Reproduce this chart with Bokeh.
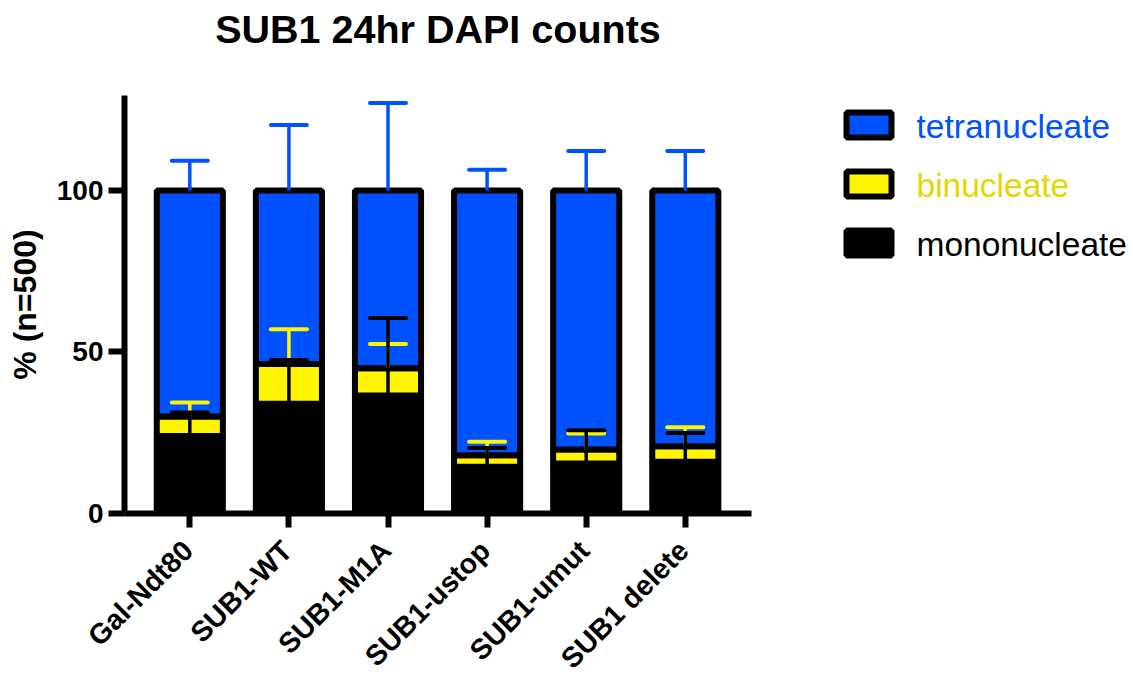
import math
from bokeh.plotting import figure
from bokeh.layouts import row, column
from bokeh.models import (Range1d, FixedTicker, Whisker, TeeHead, ColumnDataSource)
from bokeh.core.properties import value
from bokeh.embed import file_html
from bokeh.resources import INLINE

# ---- data ----
title_text = "SUB1 24hr DAPI counts"
y_label = "% (n=500)"
strains = ["Gal-Ndt80", "SUB1-WT", "SUB1-M1A", "SUB1-ustop", "SUB1-umut", "SUB1 delete"]
mono = [24.0, 34.0, 36.5, 14.5, 15.5, 16.0]
bi = [6.0, 12.3, 8.5, 3.5, 4.3, 4.8]
tetra = [70.0, 53.7, 55.0, 82.0, 80.2, 79.2]
mono_sd = [7.3, 13.5, 24.0, 5.8, 10.3, 8.9]
bi_sd = [4.4, 10.7, 7.5, 4.2, 5.0, 5.9]
tetra_sd = [9.2, 20.3, 27.1, 6.4, 12.2, 12.2]
y_ticks = [0, 50, 100]
series_names = ["tetranucleate", "binucleate", "mononucleate"]

BLUE = "#0052FF"
YELLOW = "#FFF500"
YELLOW_TXT = "#E2D800"
FONT = "Liberation Sans"

xs = list(range(len(strains)))
bi_top = [m + b for m, b in zip(mono, bi)]
tet_top = [bt + t for bt, t in zip(bi_top, tetra)]

src = ColumnDataSource(dict(
    x=xs, mono=mono, bitop=bi_top, tettop=tet_top,
    mono_hi=[m + s for m, s in zip(mono, mono_sd)],
    bi_hi=[b + s for b, s in zip(bi_top, bi_sd)],
    tet_hi=[t + s for t, s in zip(tet_top, tetra_sd)],
))

# ---- layout geometry (pixels) ----
TOTAL_W, TOTAL_H = 1133, 678
TITLE_H = 95
MAIN_W = 808
ML, MR, MB = 124, 57, 17
FRAME_H = 418
MAIN_H = FRAME_H + MB
LAB_H = TOTAL_H - TITLE_H - MAIN_H
LEG_W = TOTAL_W - MAIN_W


def bare(fig):
    fig.outline_line_color = None
    fig.xgrid.visible = False
    fig.ygrid.visible = False
    return fig


# ---- title strip ----
pt = bare(figure(width=TOTAL_W, height=TITLE_H, output_backend="svg", toolbar_location=None,
                 x_range=Range1d(0, TOTAL_W), y_range=Range1d(TITLE_H, 0),
                 x_axis_type=None, y_axis_type=None, min_border=0, frame_align=False))
pt.text(x=[ML + (MAIN_W - ML - MR) / 2], y=[28], text=[title_text],
        text_align="center", text_baseline="middle",
        text_font=value(FONT), text_font_style="bold", text_font_size="39.5px",
        text_color="black")

# ---- main chart ----
x0, x1 = -0.659, 5.668
p = bare(figure(width=MAIN_W, height=MAIN_H, output_backend="svg", toolbar_location=None,
                x_range=Range1d(x0, x1), y_range=Range1d(0, 129.4),
                min_border_left=ML, min_border_right=MR, min_border_top=0,
                min_border_bottom=MB, frame_align=False))

bw = 0.667
r_mono = p.vbar(x="x", bottom=0, top="mono", width=bw, source=src,
                fill_color="black", line_color="black", line_width=6)
r_bi = p.vbar(x="x", bottom="mono", top="bitop", width=bw, source=src,
              fill_color=YELLOW, line_color="black", line_width=6)
r_tet = p.vbar(x="x", bottom="bitop", top="tettop", width=bw, source=src,
               fill_color=BLUE, line_color="black", line_width=6)

for lo, hi, col in [("tettop", "tet_hi", BLUE), ("bitop", "bi_hi", YELLOW), ("mono", "mono_hi", "black")]:
    w = Whisker(source=src, base="x", lower=lo, upper=hi, dimension="height",
                lower_head=None,
                upper_head=TeeHead(size=36, line_width=4, line_color=col, line_cap="round"),
                line_color=col, line_width=3.5, level="overlay")
    p.add_layout(w)

p.yaxis.ticker = FixedTicker(ticks=y_ticks)
p.xaxis.ticker = FixedTicker(ticks=xs)
p.xaxis.major_label_overrides = {i: "" for i in xs}
for ax in (p.xaxis[0], p.yaxis[0]):
    ax.axis_line_width = 6
    ax.axis_line_color = "black"
    ax.major_tick_line_width = 6
    ax.major_tick_line_color = "black"
    ax.major_tick_in = 0
    ax.minor_tick_line_color = None
    ax.major_label_text_font = FONT
    ax.major_label_text_font_style = "bold"
    ax.major_label_text_font_size = "28px"
    ax.major_label_text_color = "black"
p.xaxis.major_label_text_font_size = "0px"
p.xaxis.major_label_standoff = 0
p.yaxis.major_tick_out = 16
p.xaxis.major_tick_out = 14
p.yaxis.major_label_standoff = 5
p.yaxis.axis_label = y_label
p.yaxis.axis_label_text_font = FONT
p.yaxis.axis_label_text_font_style = "bold"
p.yaxis.axis_label_text_font_size = "32px"
p.yaxis.axis_label_text_color = "black"
p.yaxis.axis_label_standoff = 11

# ---- rotated category labels (strip under the chart, same x scale) ----
scale = (MAIN_W - ML - MR) / (x1 - x0)
lx0 = x0 - ML / scale
lx1 = lx0 + MAIN_W / scale
pl = bare(figure(width=MAIN_W, height=LAB_H, output_backend="svg", toolbar_location=None,
                 x_range=Range1d(lx0, lx1), y_range=Range1d(LAB_H, 0),
                 x_axis_type=None, y_axis_type=None, min_border=0, frame_align=False))
pl.text(x=xs, y=[15] * len(xs), text=strains, angle=math.pi / 4,
        text_align="right", text_baseline="middle", x_offset=-2,
        text_font=value(FONT), text_font_style="bold", text_font_size="28.5px",
        text_color="black")

# ---- legend strip on the right ----
pg = bare(figure(width=LEG_W, height=MAIN_H + LAB_H, output_backend="svg", toolbar_location=None,
                 x_range=Range1d(0, LEG_W), y_range=Range1d(MAIN_H + LAB_H, 0),
                 x_axis_type=None, y_axis_type=None, min_border=0, frame_align=False))
row_y = [29.5, 88.5, 147.5]
pg.rect(x=[60.5] * 3, y=row_y, width=45, height=25,
        fill_color=[BLUE, YELLOW, "black"], line_color="black", line_width=6)
pg.text(x=[108] * 3, y=[yy + 1 for yy in row_y], text=series_names,
        text_align="left", text_baseline="middle",
        text_font=value(FONT), text_font_size="33.5px",
        text_color=[BLUE, YELLOW_TXT, "black"])

layout = column(pt, row(column(p, pl, spacing=0), pg, spacing=0), spacing=0)
open("out.html", "w").write(file_html(layout, INLINE))
